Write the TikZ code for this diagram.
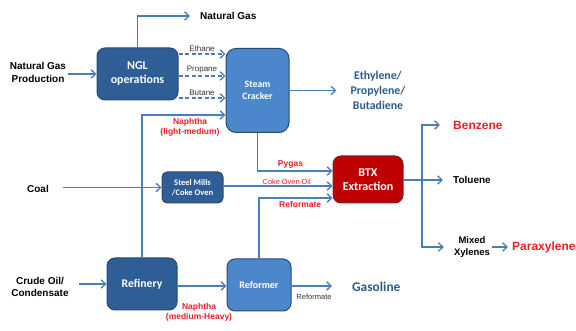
\documentclass[tikz,border=0pt]{standalone}
\usepackage{fontspec}
\setmainfont{Liberation Sans}
\newfontfamily\calfont{Carlito}
\usetikzlibrary{arrows.meta,calc}
\definecolor{darkbox}{HTML}{2F5D95}
\definecolor{lightbox}{HTML}{4B87CA}
\definecolor{boxline}{HTML}{2B4A72}
\definecolor{arrcol}{HTML}{4A7DBA}
\definecolor{bluetext}{HTML}{2F5A8C}
\definecolor{labred}{HTML}{EE1C24}
\definecolor{btxfill}{HTML}{C00000}
\definecolor{btxline}{HTML}{6E2A35}
\tikzset{
  box/.style={draw=boxline, line width=1pt, rounded corners=8pt, text=white, align=center, inner sep=0pt},
  darkb/.style={box, fill=darkbox},
  lightb/.style={box, fill=lightbox},
  arr/.style={draw=arrcol, line width=1.4pt, -{Straight Barb[length=4.5pt,width=8.5pt,line width=1.3pt]}},
  dasharr/.style={arr, dashed, dash pattern=on 4pt off 2.5pt},
  plain/.style={draw=arrcol, line width=1.3pt},
  blk/.style={font=\bfseries\fontsize{10}{12.5}\selectfont, align=center, inner sep=2pt},
  lab/.style={font=\fontsize{8}{9}\selectfont, inner sep=1pt, text=black!80},
  redlab/.style={font=\bfseries\fontsize{8.5}{10}\selectfont, text=labred, align=center, inner sep=1pt},
}
\begin{document}
\begin{tikzpicture}[x=1pt,y=-1pt]
\useasboundingbox (0,0) rectangle (576,331);
% boxes
\node[darkb, minimum width=81pt, minimum height=52pt, font=\calfont\bfseries\fontsize{12}{14}\selectfont] (ngl) at (137.5,74) {NGL\\operations};
\node[lightb, rounded corners=10pt, minimum width=63pt, minimum height=84pt, font=\calfont\bfseries\fontsize{9.8}{12.5}\selectfont] (sc) at (257.5,90.5) {Steam\\Cracker};
\node[darkb, rounded corners=5pt, minimum width=61pt, minimum height=31pt, font=\calfont\bfseries\fontsize{8.5}{10.5}\selectfont] (steel) at (192.5,187.5) {Steel Mills\\/Coke Oven};
\node[box, draw=btxline, fill=btxfill, minimum width=70pt, minimum height=47pt, font=\calfont\bfseries\fontsize{12}{14}\selectfont] (btx) at (368,179.5) {BTX\\Extraction};
\node[darkb, minimum width=70pt, minimum height=52pt, font=\calfont\bfseries\fontsize{11.7}{14}\selectfont] (ref) at (142,284) {Refinery};
\node[lightb, minimum width=64pt, minimum height=52pt, font=\calfont\bfseries\fontsize{10}{12}\selectfont] (refo) at (259,285) {Reformer};
% texts
\node[blk] (ngp) at (38,72.5) {Natural Gas\\Production};
\node[blk, anchor=west] (ng) at (198,16) {Natural Gas};
\node[blk, text=bluetext, font=\calfont\bfseries\fontsize{11.8}{15}\selectfont] (eth) at (378,90.5) {Ethylene/\\Propylene/\\Butadiene};
\node[blk] (coal) at (38,189) {Coal};
\node[blk] (crude) at (40,287) {Crude Oil/\\Condensate};
\node[blk, anchor=west, text=labred, font=\bfseries\fontsize{12}{14}\selectfont] (benz) at (451,125) {Benzene};
\node[blk, anchor=west] (tol) at (451,180) {Toluene};
\node[blk, font=\bfseries\fontsize{9.5}{12.5}\selectfont] (mix) at (472,247) {Mixed\\Xylenes};
\node[blk, anchor=west, text=labred, font=\bfseries\fontsize{12}{14}\selectfont] (para) at (510,247) {Paraxylene};
\node[blk, anchor=west, text=bluetext, font=\calfont\bfseries\fontsize{13.4}{15}\selectfont] (gas) at (350,287) {Gasoline};
% connectors
\draw[arr] (ngp.east |- ngl.west) -- (ngl.west);
\draw[arr, shorten >=8pt] (ngl.north) |- (ng.west);
\draw[dasharr] (ngl.east |- 0,54) -- node[lab, above=1pt] (eth1) {Ethane} (sc.west |- 0,54);
\draw[dasharr] (ngl.east |- 0,76) -- node[lab, above=1pt] (pro1) {Propane} (sc.west |- 0,76);
\draw[dasharr] (ngl.east |- 0,98) -- node[lab, above=1pt] (but1) {Butane} (sc.west |- 0,98);
\draw[arr] (ref.north) |- (sc.west |- 0,115);
\node[redlab] (naph1) at (190,127.5) {Naphtha\\(light-medium)};
\draw[arr, shorten >=12pt] (sc.east |- eth.west) -- (eth.west);
\draw[arr] (sc.south) |- node[redlab, pos=0.72, above=1pt] (pyg) {Pygas} (btx.west |- 0,171);
\draw[arr, shorten <=12pt] (coal.east |- steel.west) -- (steel.west);
\draw[arr] (steel.east |- 0,186) -- node[redlab, font=\fontsize{7.4}{9}\selectfont, above=0pt, pos=0.58] (coke) {Coke Oven Oil} (btx.west |- 0,186);
\draw[arr] (refo.north) |- node[redlab, pos=0.78, below=2pt] (refm) {Reformate} (btx.west |- 0,198);
\coordinate (split) at (422,180);
\draw[arr, shorten >=8pt] (btx.east |- split) -- (tol.west);
\draw[arr, shorten >=11pt] (split) |- (benz.west);
\draw[arr, shorten >=8pt] (split) |- (mix.west |- 0,247);
\draw[arr, shorten >=2pt] (mix.east) -- (para.west);
\draw[arr, shorten <=8pt] (crude.east |- ref.west) -- (ref.west);
\draw[arr] (ref.east |- 0,286) -- (refo.west |- 0,286);
\node[redlab] (naph2) at (199,312.5) {Naphtha\\(medium-Heavy)};
\draw[arr, shorten >=18pt] (refo.east |- 0,286) -- (gas.west |- 0,286);
\node[lab, font=\fontsize{7.5}{9}\selectfont] (refm2) at (314,296.5) {Reformate};
\end{tikzpicture}
\end{document}
